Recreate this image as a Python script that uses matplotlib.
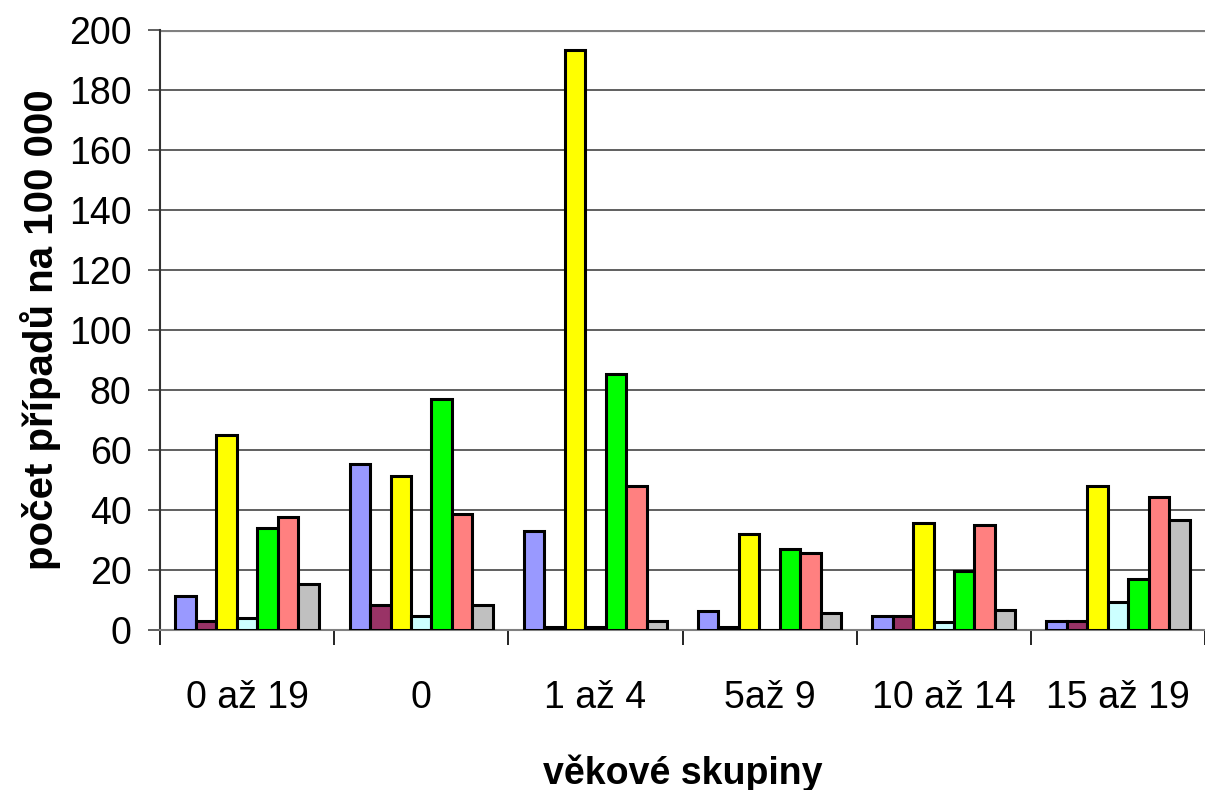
import numpy as np
import matplotlib
matplotlib.use("Agg")
import matplotlib.pyplot as plt

plt.rcParams['font.family'] = ['Liberation Sans', 'DejaVu Sans']

groups = ["0 až 19", "0", "1 až 4", "5až 9", "10 až 14", "15 až 19"]

# seven series per age group (cases per 100 000)
s_blue = [11.5, 55.5, 33, 6.5, 4.7, 3]
s_purple = [3, 8.3, 1, 1, 4.7, 3]
s_yellow = [65, 51.5, 193.5, 32, 35.7, 48]
s_cyan = [4, 4.6, 1, 0, 2.7, 9.3]
s_green = [34, 77, 85.5, 27, 19.7, 17]
s_salmon = [37.6, 38.6, 48, 25.6, 35, 44.3]
s_gray = [15.3, 8.3, 3, 5.7, 6.6, 36.7]

series = [s_blue, s_purple, s_yellow, s_cyan, s_green, s_salmon, s_gray]
colors = ["#9999FF", "#993366", "#FFFF00", "#CCFFFF", "#00FF00", "#FF8080", "#C0C0C0"]

fig = plt.figure(figsize=(12.05, 7.9), dpi=100)
ax = fig.add_axes([160 / 1205, 1 - 630 / 790, 1 - 160 / 1205, 600 / 790])

n = len(series)
bw = 0.1176
centers = np.arange(len(groups)) + 0.5
for i, (vals, col) in enumerate(zip(series, colors)):
    xs = centers + (i - (n - 1) / 2) * bw
    ax.bar(xs, vals, width=bw, color=col, edgecolor="black", linewidth=2.2, zorder=3)

ax.set_xlim(0, len(groups))
ax.set_ylim(0, 200)
ax.set_yticks(np.arange(0, 201, 20))
ax.yaxis.grid(True, color="#444444", linewidth=1.2, zorder=0)
ax.tick_params(axis="y", direction="out", length=8.5, width=1.2, color="#444444",
               labelsize=27, pad=12)

# boundary ticks between groups, labels at group centres
ax.set_xticks(np.arange(len(groups) + 1))
ax.set_xticklabels([])
ax.tick_params(axis="x", which="major", direction="out", length=11, width=1.2, color="black")
ax.set_xticks(centers, minor=True)
ax.set_xticklabels(groups, minor=True)
ax.tick_params(axis="x", which="minor", length=0, labelsize=27, pad=36)

for side in ["top", "right"]:
    ax.spines[side].set_visible(False)
ax.spines["left"].set_color("#333333")
ax.spines["left"].set_linewidth(1.5)
ax.spines["bottom"].set_color("#808080")
ax.spines["bottom"].set_linewidth(1.5)
ax.axhline(200, color="#808080", linewidth=3, zorder=2)

ax.set_ylabel("počet případů na 100 000", fontsize=29, fontweight="bold", labelpad=6)
ax.set_xlabel("věkové skupiny", fontsize=27, fontweight="bold", labelpad=28)

plt.savefig("out.png", dpi=100)
plt.close()
